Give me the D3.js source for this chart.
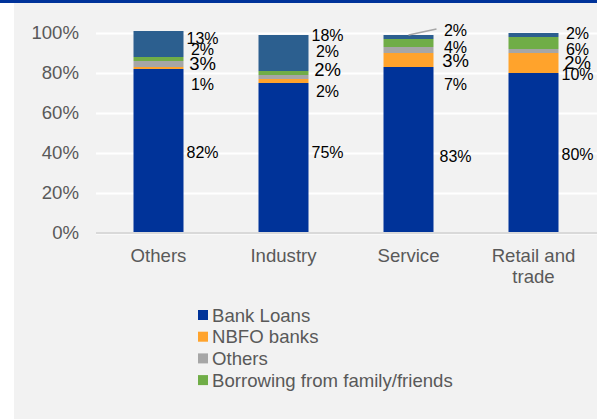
<!DOCTYPE html>
<html>
<head>
<meta charset="utf-8">
<script src="https://cdn.jsdelivr.net/npm/d3@7"></script>
<style>
  html, body { margin: 0; padding: 0; background: #ffffff; }
  svg { display: block; font-family: "Liberation Sans", Arial, sans-serif; }
</style>
</head>
<body>
<svg id="chart" width="597" height="419"></svg>
<script>
// Sources of financing by sector (share of total, %)
const categories = ["Others", "Industry", "Service", "Retail and trade"];
const bankLoans     = [82, 75, 83, 80];
const nbfoBanks     = [1, 2, 7, 10];
const otherSources  = [3, 2, 3, 2];
const familyFriends = [2, 2, 4, 6];
const ownFunds      = [13, 18, 2, 2];
const yTicks = [0, 20, 40, 60, 80, 100];

const seriesKeys   = ["bank", "nbfo", "other", "family", "own"];
const seriesNames  = ["Bank Loans", "NBFO banks", "Others", "Borrowing from family/friends", "Own funds"];
const seriesValues = [bankLoans, nbfoBanks, otherSources, familyFriends, ownFunds];
const seriesColors = ["#003399", "#ffa32c", "#a6a6a6", "#70ad47", "#2c5f8f"];
const legendKeys   = ["bank", "nbfo", "other", "family"];

// Vertical nudges (px) keeping the value labels apart, per series and category
const labelNudge = {
  bank:   [1, -6, 6, 1],
  nbfo:   [16, 10.5, 24, 11],
  other:  [0, -7, 11, 11.5],
  family: [-10, -22, 4.5, 6],
  own:    [-6, -17.5, -6.5, -2]
};
const labelDx = [44, 44, 47, 44];
const labelSize = { bank: 16, nbfo: 16, other: 18.5, family: 16, own: 16 };
const leaderFor = { own: [false, false, true, false] };
const axisFont = 18.6;

const rows = categories.map((c, i) => {
  const r = { category: c };
  seriesKeys.forEach((k, j) => { r[k] = seriesValues[j][i]; });
  return r;
});

const svg = d3.select("#chart");
const W = 597, H = 419;

// Panel background and top band
svg.append("rect").attr("x", 14).attr("y", 0).attr("width", W - 14).attr("height", H).attr("fill", "#f2f2f2");
svg.append("rect").attr("x", 0).attr("y", 0).attr("width", W).attr("height", 3).attr("fill", "#00339a");

const x = d3.scaleBand().domain(categories).range([96, 596]).paddingInner(0.6).paddingOuter(0.3);
const y = d3.scaleLinear().domain([0, 100]).range([233, 33]);

// Gridlines
svg.append("g")
  .attr("transform", "translate(96,0)")
  .call(d3.axisLeft(y).tickValues(yTicks).tickSize(-(W - 96)).tickFormat(""))
  .call(g => g.select(".domain").remove())
  .call(g => g.selectAll(".tick line").attr("stroke", "#ffffff").attr("stroke-width", 2));

// Y axis labels
svg.append("g")
  .attr("transform", "translate(79,0)")
  .call(d3.axisLeft(y).tickValues(yTicks).tickSize(0).tickPadding(0).tickFormat(d => d + "%"))
  .call(g => g.select(".domain").remove())
  .call(g => g.selectAll(".tick text").attr("fill", "#595959").attr("font-size", axisFont)
    .attr("font-family", "Liberation Sans, Arial, sans-serif"));

// Stacked bars
const stacked = d3.stack().keys(seriesKeys)(rows);
const color = d3.scaleOrdinal().domain(seriesKeys).range(seriesColors);

svg.append("g").selectAll("g")
  .data(stacked)
  .join("g")
  .attr("fill", d => color(d.key))
  .selectAll("rect")
  .data(d => d)
  .join("rect")
  .attr("x", d => x(d.data.category))
  .attr("width", x.bandwidth())
  .attr("y", d => y(d[1]))
  .attr("height", d => y(d[0]) - y(d[1]));

// Baseline
svg.append("line")
  .attr("x1", 96).attr("x2", W)
  .attr("y1", y(0)).attr("y2", y(0))
  .attr("stroke", "#d9d9d9").attr("stroke-width", 2);

// Value labels
const labelG = svg.append("g");
stacked.forEach(layer => {
  layer.forEach((d, i) => {
    const cx = x(d.data.category) + x.bandwidth() / 2;
    const lx = cx + labelDx[i];
    const ly = y((d[0] + d[1]) / 2) + labelNudge[layer.key][i];
    if (leaderFor[layer.key] && leaderFor[layer.key][i]) {
      labelG.append("line")
        .attr("x1", cx).attr("y1", y(d[1]))
        .attr("x2", lx - 19).attr("y2", ly - 1.5)
        .attr("stroke", "#a6a6a6").attr("stroke-width", 1.5);
    }
    labelG.append("text")
      .attr("x", lx).attr("y", ly).attr("dy", "0.35em")
      .attr("text-anchor", "middle")
      .attr("font-size", labelSize[layer.key])
      .attr("fill", "#000000")
      .text(d.data[layer.key] + "%");
  });
});

// Category labels with wrapping
const xAxisG = svg.append("g");
categories.forEach(c => {
  const cx = x(c) + x.bandwidth() / 2;
  const t = xAxisG.append("text")
    .attr("x", cx)
    .attr("y", 255)
    .attr("text-anchor", "middle")
    .attr("font-size", axisFont).attr("fill", "#595959");
  const words = c.split(" ");
  let line = [];
  let tspan = t.append("tspan").attr("x", cx).attr("dy", "0.35em");
  words.forEach(w => {
    line.push(w);
    tspan.text(line.join(" "));
    if (tspan.node().getComputedTextLength() > 100 && line.length > 1) {
      line.pop();
      tspan.text(line.join(" "));
      line = [w];
      tspan = t.append("tspan").attr("x", cx).attr("dy", 21).text(w);
    }
  });
});

// Legend
const legend = svg.append("g").attr("transform", "translate(198,315)");
legendKeys.forEach((k, i) => {
  const row = legend.append("g").attr("transform", `translate(0,${i * 21.7})`);
  row.append("rect").attr("x", 0).attr("y", -5).attr("width", 10).attr("height", 10).attr("fill", color(k));
  row.append("text").attr("x", 14).attr("y", 0).attr("dy", "0.35em")
    .attr("font-size", axisFont).attr("fill", "#595959")
    .text(seriesNames[seriesKeys.indexOf(k)]);
});
</script>
</body>
</html>
